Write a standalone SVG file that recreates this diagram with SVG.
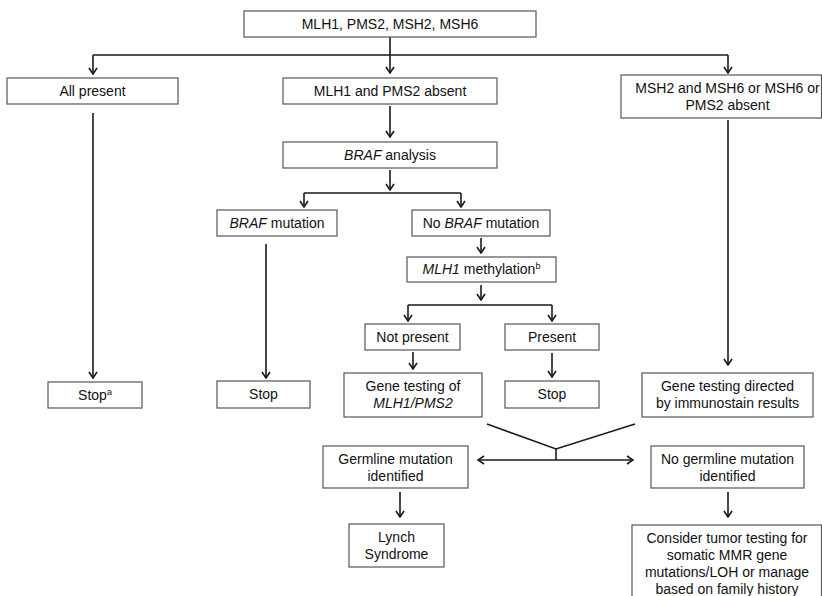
<svg xmlns="http://www.w3.org/2000/svg" width="822" height="596" viewBox="0 0 822 596">
<style>
  .box rect { fill: #fff; stroke: #555; stroke-width: 1.2; }
  .box text { font-family: "Liberation Sans", Arial, sans-serif; font-size: 14px; fill: #111; text-anchor: middle; }
  .it { font-style: italic; }
  .sup { font-size: 9px; }
  #connectors path, #connectors line, #connectors polyline { fill: none; stroke: #1a1a1a; stroke-width: 1.6; }
</style>
<defs>
  <marker id="ah" viewBox="0 0 8 10" refX="7" refY="5" markerWidth="8" markerHeight="10" markerUnits="userSpaceOnUse" orient="auto-start-reverse">
    <path d="M1,1 L7,5 L1,9" fill="none" stroke="#1a1a1a" stroke-width="1.6"/>
  </marker>
</defs>
<rect width="822" height="596" fill="#fff"/>

<g id="connectors">
  <line x1="390" y1="37" x2="390" y2="73" marker-end="url(#ah)"/>
  <line x1="93" y1="55" x2="728" y2="55"/>
  <line x1="93" y1="55" x2="93" y2="74" marker-end="url(#ah)"/>
  <line x1="728" y1="55" x2="728" y2="73" marker-end="url(#ah)"/>
  <line x1="390" y1="106" x2="390" y2="137" marker-end="url(#ah)"/>
  <line x1="390" y1="170" x2="390" y2="190" marker-end="url(#ah)"/>
  <line x1="304" y1="193" x2="461" y2="193"/>
  <line x1="304" y1="193" x2="304" y2="207" marker-end="url(#ah)"/>
  <line x1="461" y1="193" x2="461" y2="207" marker-end="url(#ah)"/>
  <line x1="481" y1="238" x2="481" y2="253" marker-end="url(#ah)"/>
  <line x1="481" y1="285" x2="481" y2="300" marker-end="url(#ah)"/>
  <line x1="408" y1="305" x2="552" y2="305"/>
  <line x1="408" y1="305" x2="408" y2="321" marker-end="url(#ah)"/>
  <line x1="552" y1="305" x2="552" y2="321" marker-end="url(#ah)"/>
  <line x1="413" y1="352" x2="413" y2="369" marker-end="url(#ah)"/>
  <line x1="552" y1="353" x2="552" y2="377" marker-end="url(#ah)"/>
  <line x1="266" y1="244" x2="266" y2="378" marker-end="url(#ah)"/>
  <line x1="93" y1="113" x2="93" y2="378" marker-end="url(#ah)"/>
  <line x1="728" y1="120" x2="728" y2="365" marker-end="url(#ah)"/>
  <polyline points="487,424 556,449 635,424"/>
  <line x1="556" y1="449" x2="556" y2="460"/>
  <line x1="478" y1="460" x2="633" y2="460" marker-start="url(#ah)" marker-end="url(#ah)"/>
  <line x1="400" y1="492" x2="400" y2="517" marker-end="url(#ah)"/>
  <line x1="728" y1="492" x2="728" y2="517" marker-end="url(#ah)"/>
</g>

<g id="n-top" class="box"><rect x="244" y="11" width="292" height="26"/><text x="390" y="29">MLH1, PMS2, MSH2, MSH6</text></g>
<g id="n-allpresent" class="box"><rect x="7" y="78" width="171" height="26"/><text x="92.5" y="96">All present</text></g>
<g id="n-mlh1absent" class="box"><rect x="283" y="78" width="214" height="26"/><text x="390" y="96">MLH1 and PMS2 absent</text></g>
<g id="n-msh2absent" class="box"><rect x="621" y="75" width="200.5" height="43"/><text x="727.5" y="93">MSH2 and MSH6 or MSH6 or</text><text x="727.5" y="110">PMS2 absent</text></g>
<g id="n-braf" class="box"><rect x="283" y="142" width="214" height="26"/><text x="390" y="160"><tspan class="it">BRAF</tspan> analysis</text></g>
<g id="n-brafmut" class="box"><rect x="217" y="210" width="120" height="26"/><text x="277" y="228"><tspan class="it">BRAF</tspan> mutation</text></g>
<g id="n-nobraf" class="box"><rect x="412" y="210" width="138" height="26"/><text x="481" y="228">No <tspan class="it">BRAF</tspan> mutation</text></g>
<g id="n-methyl" class="box"><rect x="407" y="257" width="149" height="25"/><text x="481.5" y="274"><tspan class="it">MLH1</tspan> methylation<tspan class="sup" dy="-5">b</tspan></text></g>
<g id="n-notpresent" class="box"><rect x="365" y="324" width="95" height="26"/><text x="412.5" y="342">Not present</text></g>
<g id="n-present" class="box"><rect x="505" y="324" width="94" height="26"/><text x="552" y="342">Present</text></g>
<g id="n-genetest1" class="box"><rect x="344" y="373" width="138" height="44"/><text x="413" y="391">Gene testing of</text><text x="413" y="408" class="it">MLH1/PMS2</text></g>
<g id="n-stop3" class="box"><rect x="505" y="381" width="94" height="27"/><text x="552" y="399">Stop</text></g>
<g id="n-stop2" class="box"><rect x="217" y="381" width="93" height="27"/><text x="263.5" y="399">Stop</text></g>
<g id="n-stop1" class="box"><rect x="48" y="382" width="94" height="26"/><text x="95" y="400">Stop<tspan class="sup" dy="-5">a</tspan></text></g>
<g id="n-genetest2" class="box"><rect x="642" y="373" width="171" height="44"/><text x="727.5" y="391">Gene testing directed</text><text x="727.5" y="408">by immunostain results</text></g>
<g id="n-germline" class="box"><rect x="323" y="446" width="145" height="42"/><text x="395.5" y="464">Germline mutation</text><text x="395.5" y="481">identified</text></g>
<g id="n-lynch" class="box"><rect x="349" y="524" width="95" height="43"/><text x="396.5" y="542">Lynch</text><text x="396.5" y="559">Syndrome</text></g>
<g id="n-nogermline" class="box"><rect x="651" y="446" width="153" height="42"/><text x="727.5" y="464">No germline mutation</text><text x="727.5" y="481">identified</text></g>
<g id="n-consider" class="box"><rect x="632" y="525" width="189.5" height="80"/><text x="727" y="543">Consider tumor testing for</text><text x="727" y="560">somatic MMR gene</text><text x="727" y="577">mutations/LOH or manage</text><text x="727" y="594">based on family history</text></g>
</svg>
